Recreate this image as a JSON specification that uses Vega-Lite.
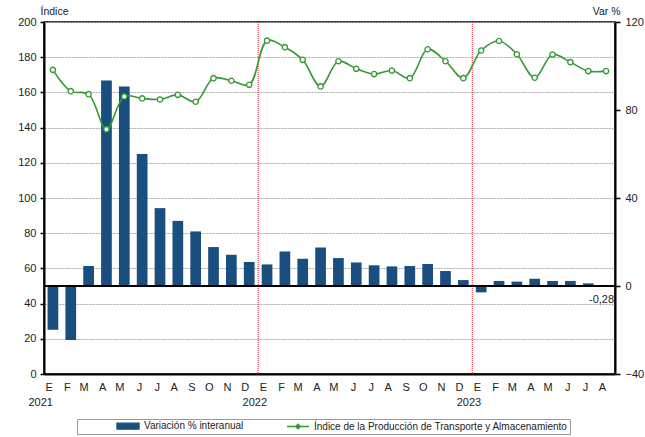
{
  "$schema": "https://vega.github.io/schema/vega-lite/v6.json",
  "width": 571,
  "height": 352,
  "autosize": {"type": "none"},
  "padding": {"left": 44, "top": 22, "right": 30, "bottom": 63},
  "background": "white",
  "config": {
    "font": "Liberation Sans",
    "view": {"stroke": "#000", "strokeWidth": 1.5},
    "axis": {
      "labelFont": "Liberation Sans",
      "labelFontSize": 11,
      "labelColor": "#222",
      "labelOverlap": false,
      "domainColor": "#000",
      "domainWidth": 2,
      "tickColor": "#000",
      "tickWidth": 1.5,
      "titleFont": "Liberation Sans",
      "titleFontWeight": "normal",
      "titleFontSize": 10.5,
      "titleColor": "#222"
    },
    "legend": {"labelFont": "Liberation Sans", "titleFont": "Liberation Sans"}
  },
  "data": {
    "values": [
      {"k": "2021-01", "idx": 172.8, "var": -19.9},
      {"k": "2021-02", "idx": 160.7, "var": -24.5},
      {"k": "2021-03", "idx": 159.0, "var": 9.1},
      {"k": "2021-04", "idx": 139.0, "var": 93.4},
      {"k": "2021-05", "idx": 157.7, "var": 90.7},
      {"k": "2021-06", "idx": 156.6, "var": 60.0},
      {"k": "2021-07", "idx": 156.0, "var": 35.4},
      {"k": "2021-08", "idx": 158.6, "var": 29.6},
      {"k": "2021-09", "idx": 154.7, "var": 24.8},
      {"k": "2021-10", "idx": 168.1, "var": 17.7},
      {"k": "2021-11", "idx": 166.6, "var": 14.2},
      {"k": "2021-12", "idx": 164.3, "var": 10.9},
      {"k": "2022-01", "idx": 189.4, "var": 9.8},
      {"k": "2022-02", "idx": 185.7, "var": 15.7},
      {"k": "2022-03", "idx": 178.5, "var": 12.4},
      {"k": "2022-04", "idx": 163.4, "var": 17.5},
      {"k": "2022-05", "idx": 177.7, "var": 12.7},
      {"k": "2022-06", "idx": 173.4, "var": 10.7},
      {"k": "2022-07", "idx": 170.4, "var": 9.4},
      {"k": "2022-08", "idx": 172.4, "var": 8.9},
      {"k": "2022-09", "idx": 168.1, "var": 9.1},
      {"k": "2022-10", "idx": 184.5, "var": 10.0},
      {"k": "2022-11", "idx": 177.7, "var": 6.8},
      {"k": "2022-12", "idx": 168.1, "var": 2.7},
      {"k": "2023-01", "idx": 183.8, "var": -2.9},
      {"k": "2023-02", "idx": 189.2, "var": 2.3},
      {"k": "2023-03", "idx": 181.7, "var": 2.0},
      {"k": "2023-04", "idx": 168.3, "var": 3.3},
      {"k": "2023-05", "idx": 181.5, "var": 2.3},
      {"k": "2023-06", "idx": 177.2, "var": 2.3},
      {"k": "2023-07", "idx": 172.1, "var": 1.2},
      {"k": "2023-08", "idx": 172.1, "var": -0.28, "etq": "-0,28"}
    ]
  },
  "layer": [
    {
      "layer": [
        {
          "transform": [{"filter": "datum.k == '2022-01' || datum.k == '2023-01'"}],
          "mark": {"type": "rule", "color": "#e8262c", "strokeDash": [1, 1], "strokeWidth": 1},
          "encoding": {
            "x": {"field": "k", "type": "ordinal", "bandPosition": 0}
          }
        },
        {
          "mark": {"type": "bar", "width": {"band": 0.6}},
          "encoding": {
            "x": {
              "field": "k",
              "type": "ordinal",
              "scale": {"type": "band", "paddingInner": 0, "paddingOuter": 0},
              "axis": {
                "orient": "bottom",
                "title": null,
                "ticks": false,
                "labelAngle": 0,
                "labelPadding": 7,
                "labelBaseline": "top",
                "labelLineHeight": 15,
                "labelExpr": "substring(datum.value,5,7)=='01' ? ['E', substring(datum.value,0,4)] : ['E','F','M','A','M','J','J','A','S','O','N','D'][toNumber(substring(datum.value,5,7))-1]"
              }
            },
            "y": {
              "field": "var",
              "type": "quantitative",
              "scale": {"domain": [-40, 120], "nice": false, "zero": false},
              "axis": {
                "orient": "right",
                "values": [-40, 0, 40, 80, 120],
                "grid": false,
                "tickSize": 5,
                "labelPadding": 5,
                "title": "Var %",
                "titleAngle": 0,
                "titleAlign": "right",
                "titleBaseline": "alphabetic",
                "titleX": 5,
                "titleY": -8
              }
            },
            "color": {
              "datum": "Variación % interanual",
              "type": "nominal",
              "scale": {
                "domain": ["Variación % interanual", "Índice de la Producción de Transporte y Almacenamiento"],
                "range": ["#1a4e7e", "#339933"]
              },
              "legend": {
                "orient": "none",
                "legendX": 33,
                "legendY": 397,
                "direction": "horizontal",
                "title": null,
                "strokeColor": "#999",
                "padding": 2,
                "symbolSize": 36,
                "symbolOffset": 44,
                "labelOffset": 11,
                "columnPadding": 5,
                "labelFontSize": 10,
                "labelColor": "#222",
                "labelLimit": 500,
                "labelBaseline": "middle",
                "labelExpr": "datum.value == 'Variación % interanual' ? datum.value : datum.value + '\u2002\u2002\u2002\u2002'",
                "encode": {
                  "symbols": {
                    "update": {
                      "shape": {"signal": "datum.value == 'Variación % interanual' ? 'M-3.67,-1H3.67V1H-3.67Z' : 'M-3.67,0H-0.8M0.8,0H3.67M0,-0.8L0.8,0L0,0.8L-0.8,0Z'"},
                      "fill": {"signal": "datum.value == 'Variación % interanual' ? '#1a4e7e' : '#ffffff'"},
                      "stroke": {"signal": "datum.value == 'Variación % interanual' ? '#1a4e7e' : '#339933'"},
                      "strokeWidth": {"value": 1.3},
                      "opacity": {"value": 1}
                    }
                  }
                }
              }
            }
          }
        },
        {
          "mark": {"type": "rule", "color": "#000", "strokeWidth": 1.5},
          "encoding": {"y": {"datum": 0, "type": "quantitative"}}
        },
        {
          "transform": [{"filter": "isValid(datum.etq)"}],
          "mark": {"type": "text", "align": "right", "baseline": "middle", "dx": 8, "dy": 13, "fontSize": 11, "color": "#222"},
          "encoding": {
            "x": {"field": "k", "type": "ordinal"},
            "y": {"field": "var", "type": "quantitative"},
            "text": {"field": "etq"}
          }
        }
      ]
    },
    {
      "layer": [
        {
          "mark": {"type": "line", "interpolate": "catmull-rom", "strokeWidth": 1.6},
          "encoding": {
            "x": {"field": "k", "type": "ordinal"},
            "y": {
              "field": "idx",
              "type": "quantitative",
              "scale": {"domain": [0, 200], "nice": false},
              "axis": {
                "orient": "left",
                "values": [0, 20, 40, 60, 80, 100, 120, 140, 160, 180, 200],
                "tickCount": 11,
                "labelOverlap": false,
                "grid": true,
                "gridColor": "#aaaaaa",
                "gridDash": [2, 1],
                "gridWidth": 1,
                "tickSize": 4,
                "labelPadding": 4,
                "title": "Índice",
                "titleAngle": 0,
                "titleAlign": "left",
                "titleBaseline": "alphabetic",
                "titleX": -4,
                "titleY": -8
              }
            },
            "color": {"datum": "Índice de la Producción de Transporte y Almacenamiento", "type": "nominal"}
          }
        },
        {
          "mark": {"type": "point", "filled": false, "fill": "white", "size": 28, "strokeWidth": 1.3, "opacity": 1},
          "encoding": {
            "x": {"field": "k", "type": "ordinal"},
            "y": {"field": "idx", "type": "quantitative", "axis": {"values": [0, 20, 40, 60, 80, 100, 120, 140, 160, 180, 200], "labelOverlap": false}},
            "color": {"datum": "Índice de la Producción de Transporte y Almacenamiento", "type": "nominal"}
          }
        }
      ]
    }
  ],
  "resolve": {"scale": {"y": "independent"}}
}
